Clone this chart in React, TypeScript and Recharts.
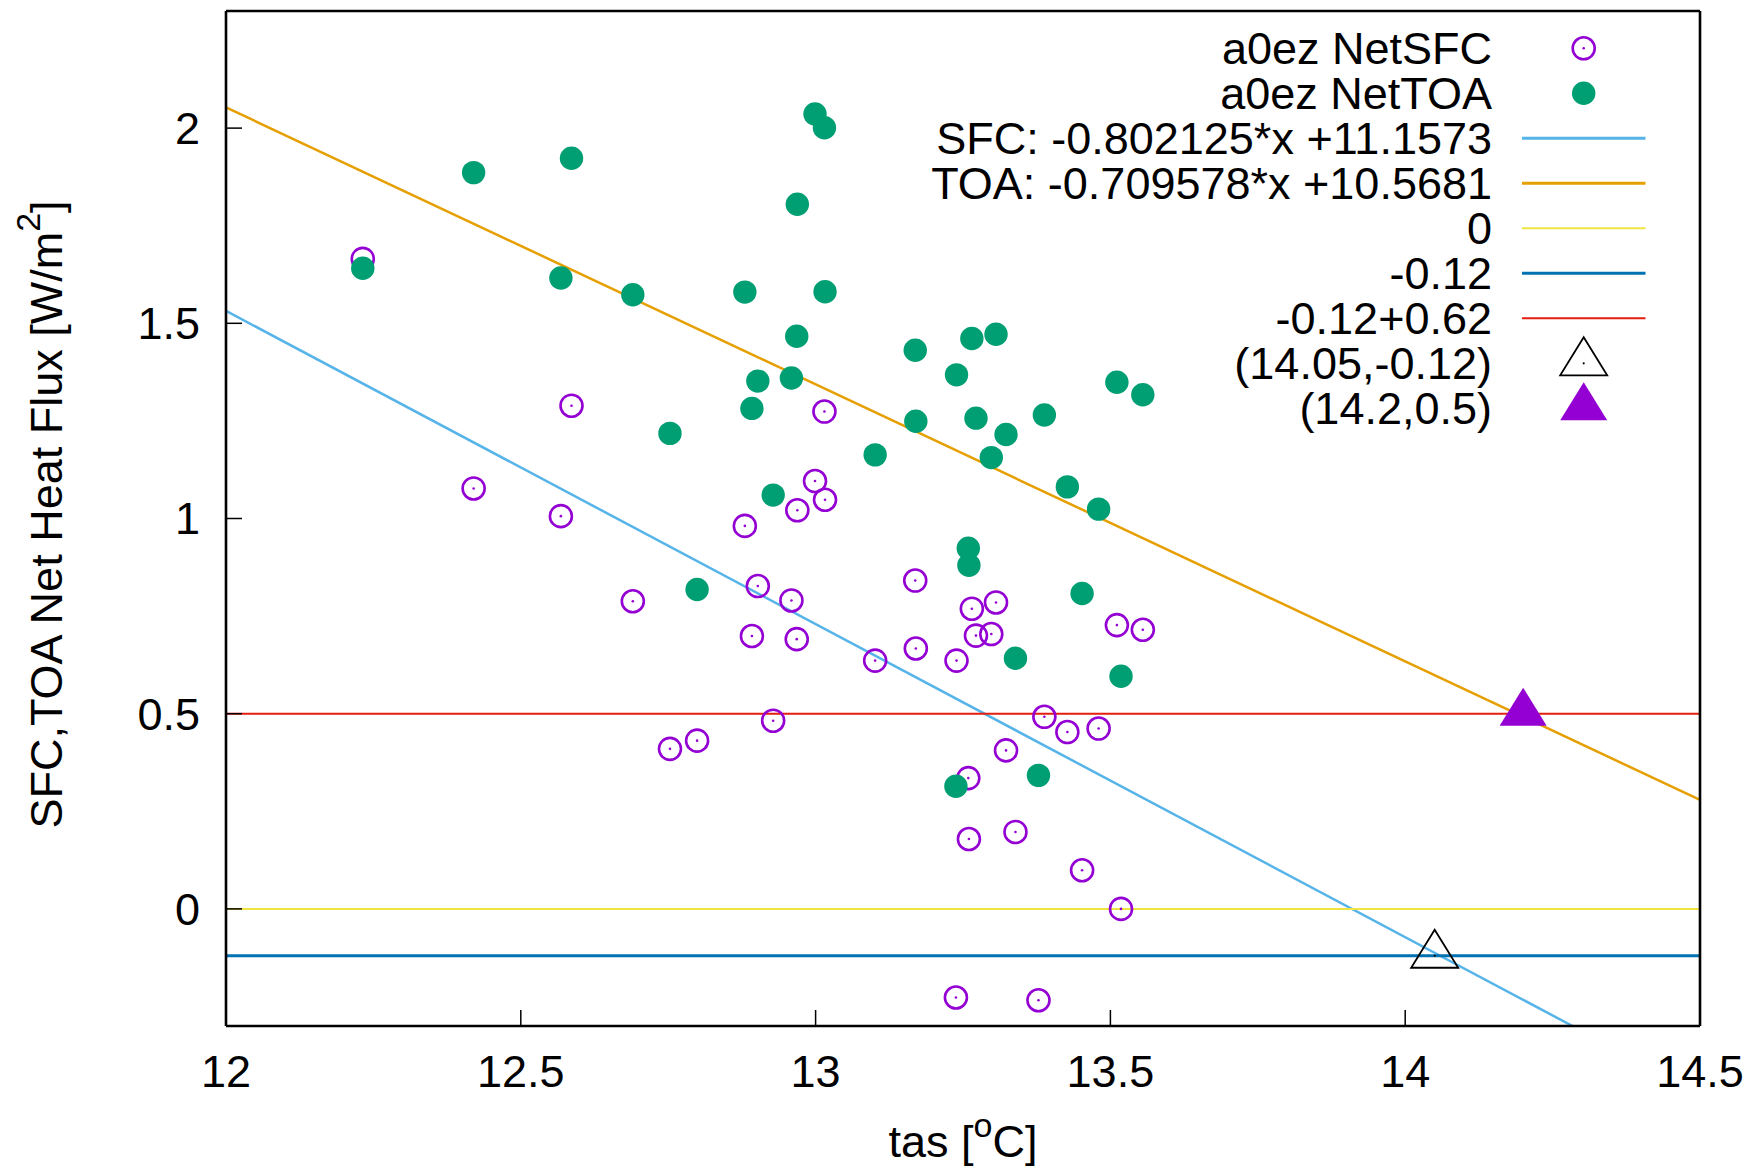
import React from 'react';
import { ScatterChart, Scatter, XAxis, YAxis, ReferenceLine, Legend, Label } from 'recharts';

// tas [oC] of each run
const tas = [
  12.232, 12.42, 12.568, 12.586, 12.69, 12.753, 12.799, 12.88, 12.892, 12.902,
  12.928, 12.959, 12.968, 12.969, 12.999, 13.015, 13.016, 13.101, 13.169, 13.17,
  13.238, 13.239, 13.259, 13.26, 13.265, 13.272, 13.298, 13.306, 13.323, 13.339,
  13.378, 13.388, 13.427, 13.452, 13.48, 13.511, 13.518, 13.555,
];

const netSFC = [
  1.665, 1.077, 1.006, 1.289, 0.788, 0.41, 0.431, 0.981, 0.699, 0.827,
  0.482, 0.79, 0.691, 1.021, 1.096, 1.274, 1.048, 0.636, 0.841, 0.667,
  -0.227, 0.636, 0.335, 0.179, 0.769, 0.7, 0.704, 0.785, 0.406, 0.197,
  -0.234, 0.492, 0.453, 0.099, 0.462, 0.727, 0.0, 0.715,
];

const netTOA = [
  1.641, 1.886, 1.616, 1.923, 1.573, 1.218, 0.818, 1.58, 1.282, 1.352,
  1.06, 1.36, 1.467, 1.805, 2.036, 2.001, 1.581, 1.163, 1.431, 1.249,
  0.314, 1.368, 0.924, 0.88, 1.461, 1.257, 1.156, 1.472, 1.215, 0.642,
  0.342, 1.265, 1.081, 0.808, 1.024, 1.349, 0.596, 1.317,
];

// fitted lines from the key: SFC, TOA
const fitSlope = [-0.802125, -0.709578];
const fitIntercept = [11.1573, 10.5681];

// horizontal lines: 0, -0.12, -0.12+0.62
const levels = [0, -0.12, -0.12 + 0.62];

// marked points
const markX = [14.05, 14.2];
const markY = [-0.12, 0.5];

const xTicks = [12, 12.5, 13, 13.5, 14, 14.5];
const yTicks = [0, 0.5, 1, 1.5, 2];

const legendLabels = [
  'a0ez NetSFC',
  'a0ez NetTOA',
  'SFC: -0.802125*x +11.1573',
  'TOA: -0.709578*x +10.5681',
  '0',
  '-0.12',
  '-0.12+0.62',
  '(14.05,-0.12)',
  '(14.2,0.5)',
];

const FONT = '"Liberation Sans", Arial, Helvetica, sans-serif';
const PURPLE = '#9400d3';
const GREEN = '#009e73';
const SKY = '#56b4e9';
const ORANGE = '#e69f00';
const YELLOW = '#f0e442';
const BLUE = '#0072b2';
const RED = '#e51e10';

const X0 = 12;
const X1 = 14.5;

const sfcData = tas.map((x, i) => ({ x, y: netSFC[i] }));
const toaData = tas.map((x, i) => ({ x, y: netTOA[i] }));
const fitSegments = fitSlope.map((a, i) => [
  { x: X0, y: a * X0 + fitIntercept[i] },
  { x: X1, y: a * X1 + fitIntercept[i] },
]);
const openMark = [{ x: markX[0], y: markY[0] }];
const fillMark = [{ x: markX[1], y: markY[1] }];

const Ring = ({ cx, cy }: any) => (
  <g>
    <circle cx={cx} cy={cy} r={11} fill="none" stroke={PURPLE} strokeWidth={2.6} />
    <circle cx={cx} cy={cy} r={1.3} fill={PURPLE} />
  </g>
);

const Disc = ({ cx, cy }: any) => <circle cx={cx} cy={cy} r={11.7} fill={GREEN} />;

const triPoints = (cx: number, cy: number) =>
  `${cx},${cy - 26} ${cx - 23.5},${cy + 12} ${cx + 23.5},${cy + 12}`;

const OpenTri = ({ cx, cy }: any) => (
  <g>
    <polygon points={triPoints(cx, cy)} fill="none" stroke="#000" strokeWidth={1.8} />
    <circle cx={cx} cy={cy} r={1.1} fill="#000" />
  </g>
);

const FillTri = ({ cx, cy }: any) => <polygon points={triPoints(cx, cy)} fill={PURPLE} />;

const XTitle = (props: any) => {
  const vb = props.viewBox;
  return (
    <text x={vb.x + vb.width / 2} y={vb.y + 131} textAnchor="middle" fontSize={45} fontFamily={FONT} fill="#000">
      tas [<tspan dy={-20} fontSize={34}>o</tspan>
      <tspan dy={20}>C]</tspan>
    </text>
  );
};

const YTitle = (props: any) => {
  const vb = props.viewBox;
  const cy = vb.y + vb.height / 2 - 4;
  return (
    <text x={62} y={cy} transform={`rotate(-90, 62, ${cy})`} textAnchor="middle" fontSize={45} fontFamily={FONT} fill="#000">
      SFC,TOA Net Heat Flux [W/m<tspan dy={-22} fontSize={34}>2</tspan>
      <tspan dy={22}>]</tspan>
    </text>
  );
};

const lineKeys = [
  { color: SKY, w: 3 },
  { color: ORANGE, w: 3 },
  { color: YELLOW, w: 2 },
  { color: BLUE, w: 3 },
  { color: RED, w: 2 },
];

// key sits in the top right corner of the plot
const KEY_LEFT = 850;

const KeyBox = () => {
  const textX = 1492 - KEY_LEFT;
  const sx0 = 1522 - KEY_LEFT;
  const sx1 = 1645.5 - KEY_LEFT;
  const mx = 1583.7 - KEY_LEFT;
  return (
    <svg width={820} height={440} style={{ display: 'block', overflow: 'visible' }}>
      {legendLabels.map((label, i) => {
        const cy = 48.3 + 45 * i;
        let sample: React.ReactNode = null;
        if (i === 0) sample = <Ring cx={mx} cy={cy} />;
        else if (i === 1) sample = <Disc cx={mx} cy={cy} />;
        else if (i >= 2 && i <= 6) {
          const k = lineKeys[i - 2];
          sample = <line x1={sx0} x2={sx1} y1={cy} y2={cy} stroke={k.color} strokeWidth={k.w} />;
        } else if (i === 7) sample = <OpenTri cx={mx} cy={cy} />;
        else sample = <FillTri cx={mx} cy={cy} />;
        return (
          <g key={label}>
            <text x={textX} y={cy + 16} textAnchor="end" fontSize={45} fontFamily={FONT} fill="#000">
              {label}
            </text>
            {sample}
          </g>
        );
      })}
    </svg>
  );
};

export default function App() {
  const axisLine = { stroke: '#000', strokeWidth: 2.6 };
  const tickLine = { stroke: '#000', strokeWidth: 1.5 };
  const tickStyle = { fill: '#000', fontSize: 45, fontFamily: FONT };
  return (
    <div style={{ position: 'absolute', left: 0, top: 0, background: '#fff' }}>
      <ScatterChart width={1754} height={1169} margin={{ top: 0, right: 0, bottom: 0, left: 0 }}>
        <XAxis
          type="number"
          dataKey="x"
          domain={[X0, X1]}
          ticks={xTicks}
          allowDataOverflow
          interval={0}
          height={143}
          tickSize={-16}
          tickMargin={45}
          axisLine={axisLine}
          tickLine={tickLine}
          tick={tickStyle}
        >
          <Label content={XTitle} />
        </XAxis>
        <XAxis
          xAxisId="top"
          orientation="top"
          type="number"
          domain={[X0, X1]}
          ticks={xTicks}
          allowDataOverflow
          interval={0}
          height={11}
          tickSize={-16}
          axisLine={axisLine}
          tickLine={tickLine}
          tick={false}
        />
        <YAxis
          type="number"
          dataKey="y"
          domain={[-0.3, 2.3]}
          ticks={yTicks}
          allowDataOverflow
          interval={0}
          width={226}
          tickSize={-16}
          tickMargin={42}
          axisLine={axisLine}
          tickLine={tickLine}
          tick={tickStyle}
        >
          <Label content={YTitle} />
        </YAxis>
        <YAxis
          yAxisId="right"
          orientation="right"
          type="number"
          domain={[-0.3, 2.3]}
          ticks={yTicks}
          allowDataOverflow
          interval={0}
          width={54}
          tickSize={-16}
          axisLine={axisLine}
          tickLine={tickLine}
          tick={false}
        />
        <Scatter data={sfcData} shape={Ring} isAnimationActive={false} />
        <Scatter data={toaData} shape={Disc} isAnimationActive={false} />
        <ReferenceLine segment={fitSegments[0]} stroke={SKY} strokeWidth={2.5} ifOverflow="hidden" />
        <ReferenceLine segment={fitSegments[1]} stroke={ORANGE} strokeWidth={2.5} ifOverflow="hidden" />
        <ReferenceLine y={levels[0]} stroke={YELLOW} strokeWidth={2} />
        <ReferenceLine y={levels[1]} stroke={BLUE} strokeWidth={3} />
        <ReferenceLine y={levels[2]} stroke={RED} strokeWidth={2} />
        <Scatter data={openMark} shape={OpenTri} isAnimationActive={false} />
        <Scatter data={fillMark} shape={FillTri} isAnimationActive={false} />
        <Legend
          layout="vertical"
          align="center"
          verticalAlign="middle"
          content={KeyBox}
          wrapperStyle={{ left: KEY_LEFT, top: 0, width: 820, height: 440, pointerEvents: 'none' }}
        />
      </ScatterChart>
    </div>
  );
}
